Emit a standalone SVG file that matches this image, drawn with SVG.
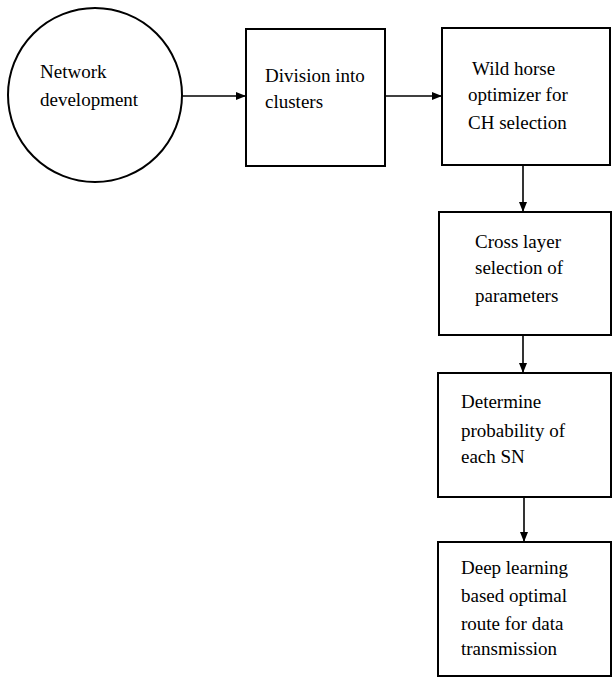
<svg xmlns="http://www.w3.org/2000/svg" width="612" height="678" viewBox="0 0 612 678">
<defs>
<marker id="ah" markerWidth="10" markerHeight="10" refX="9" refY="5" orient="auto" markerUnits="userSpaceOnUse">
<path d="M0,1 L10,5 L0,9 Z" fill="#000"/>
</marker>
</defs>
<rect width="612" height="678" fill="#fff"/>
<g id="connectors" stroke="#000" stroke-width="1.6" fill="none" marker-end="url(#ah)">
<line x1="182" y1="96" x2="245" y2="96"/>
<line x1="384" y1="96" x2="441" y2="96"/>
<line x1="523" y1="166" x2="523" y2="211"/>
<line x1="523" y1="327" x2="523" y2="372"/>
<line x1="524" y1="494" x2="524" y2="541"/>
</g>
<g id="n1">
<circle cx="95" cy="95" r="87" fill="#fff" stroke="#000" stroke-width="2"/>
<text x="40" y="78" font-family="Liberation Serif" font-size="19">Network</text>
<text x="40" y="106" font-family="Liberation Serif" font-size="19">development</text>
</g>
<g id="n2">
<rect x="246" y="29" width="139" height="137" fill="#fff" stroke="#000" stroke-width="2"/>
<text x="265" y="82" font-family="Liberation Serif" font-size="19">Division into</text>
<text x="265" y="108" font-family="Liberation Serif" font-size="19">clusters</text>
</g>
<g id="n3">
<rect x="442" y="28" width="168" height="137" fill="#fff" stroke="#000" stroke-width="2"/>
<text x="472" y="75" font-family="Liberation Serif" font-size="19">Wild horse</text>
<text x="468" y="101" font-family="Liberation Serif" font-size="19">optimizer for</text>
<text x="468" y="129" font-family="Liberation Serif" font-size="19">CH selection</text>
</g>
<g id="n4">
<rect x="439" y="212" width="172" height="123" fill="#fff" stroke="#000" stroke-width="2"/>
<text x="475" y="248" font-family="Liberation Serif" font-size="19">Cross layer</text>
<text x="475" y="274" font-family="Liberation Serif" font-size="19">selection of</text>
<text x="475" y="302" font-family="Liberation Serif" font-size="19">parameters</text>
</g>
<g id="n5">
<rect x="438" y="373" width="173" height="124" fill="#fff" stroke="#000" stroke-width="2"/>
<text x="461" y="408" font-family="Liberation Serif" font-size="19">Determine</text>
<text x="461" y="437" font-family="Liberation Serif" font-size="19">probability of</text>
<text x="461" y="463" font-family="Liberation Serif" font-size="19">each SN</text>
</g>
<g id="n6">
<rect x="438" y="542" width="173" height="134" fill="#fff" stroke="#000" stroke-width="2"/>
<text x="461" y="574" font-family="Liberation Serif" font-size="19">Deep learning</text>
<text x="461" y="602" font-family="Liberation Serif" font-size="19">based optimal</text>
<text x="461" y="630" font-family="Liberation Serif" font-size="19">route for data</text>
<text x="461" y="655" font-family="Liberation Serif" font-size="19">transmission</text>
</g>
</svg>
